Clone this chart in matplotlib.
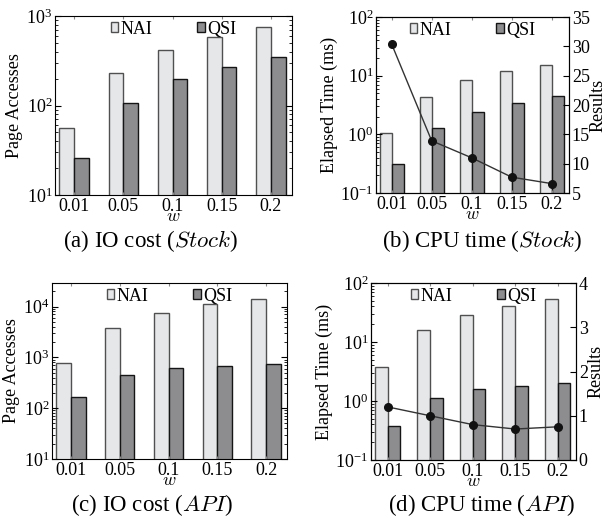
"""
plot.py - IO cost and CPU time of NAI vs QSI for varying w
"""

import numpy as np
import matplotlib
matplotlib.use("Agg")
import matplotlib.pyplot as plt
from matplotlib.patches import Patch

plt.rcParams["font.family"] = "Liberation Serif"
plt.rcParams["mathtext.fontset"] = "cm"

# Data
w_labels = ["0.01", "0.05", "0.1", "0.15", "0.2"]

io_stock_nai = [56, 229, 415, 576, 745]
io_stock_qsi = [26, 107, 196, 272, 352]

cpu_stock_nai = [1.07, 4.4, 8.4, 11.9, 15.5]
cpu_stock_qsi = [0.31, 1.27, 2.4, 3.44, 4.5]
res_stock = [30.4, 13.9, 11.0, 7.7, 6.6]

io_api_nai = [786, 3800, 7520, 10960, 14360]
io_api_qsi = [164, 444, 608, 677, 740]

cpu_api_nai = [3.7, 16.1, 29, 41.2, 54]
cpu_api_qsi = [0.37, 1.13, 1.58, 1.83, 2.0]
res_api = [1.2, 1.0, 0.8, 0.7, 0.75]

NAI_FC, NAI_EC = "#e6e7e9", "#505050"
QSI_FC, QSI_EC = "#8d8d90", "#151515"

W, H = 610, 523
fig = plt.figure(figsize=(W / 100, H / 100), dpi=100)


def px_axes(left, right, top, bottom):
    return fig.add_axes([left / W, 1 - bottom / H, (right - left) / W, (bottom - top) / H])


def bars(ax, nai, qsi, ylim, ylabel):
    x = np.arange(1, len(w_labels) + 1)
    bw = 0.3
    ax.bar(x - bw / 2, nai, bw, color=NAI_FC, edgecolor=NAI_EC, linewidth=1.0)
    ax.bar(x + bw / 2, qsi, bw, color=QSI_FC, edgecolor=QSI_EC, linewidth=1.0)
    ax.set_yscale("log")
    ax.set_ylim(*ylim)
    ax.set_xlim(0.61, 5.43)
    ax.set_xticks(x)
    ax.set_xticklabels(w_labels)
    ax.set_xlabel("$w$", fontsize=13, labelpad=-5)
    ax.set_ylabel(ylabel, fontsize=13, labelpad=2)
    ax.tick_params(axis="both", which="both", direction="in", labelsize=13, pad=2)
    ax.tick_params(axis="x", length=2, color="#888888", top=True)
    ax.tick_params(axis="y", which="major", length=4)
    ax.tick_params(axis="y", which="minor", length=2)
    handles = [Patch(facecolor=NAI_FC, edgecolor=NAI_EC, label="NAI"),
               Patch(facecolor=QSI_FC, edgecolor=QSI_EC, label="QSI")]
    ax.legend(handles=handles, ncol=2, frameon=False, loc="upper center",
              bbox_to_anchor=(0.5, 1.0), fontsize=13, handlelength=0.42,
              handleheight=0.42, handletextpad=0.12, columnspacing=2.5,
              borderaxespad=0.0, borderpad=0.25)
    return x


def results_line(ax, x, res, ylim, ticks):
    ax2 = ax.twinx()
    ax2.plot(x, res, color="#333333", linewidth=1.0, marker="o",
             markersize=5.5, markerfacecolor="#111111", markeredgecolor="#111111")
    ax2.set_ylim(*ylim)
    ax2.set_yticks(ticks)
    ax2.set_ylabel("Results", fontsize=13, labelpad=0)
    ax2.tick_params(axis="y", direction="in", labelsize=13, length=4, pad=2)
    return ax2


# (a) IO cost (Stock)
ax_a = px_axes(55, 292, 16, 195)
bars(ax_a, io_stock_nai, io_stock_qsi, (10, 1000), "Page Accesses")
ax_a.tick_params(axis="y", which="both", right=True)

# (b) CPU time (Stock)
ax_b = px_axes(376, 569, 17, 193)
xb = bars(ax_b, cpu_stock_nai, cpu_stock_qsi, (0.1, 100), "Elapsed Time (ms)")
results_line(ax_b, xb, res_stock, (5, 35), [5, 10, 15, 20, 25, 30, 35])

# (c) IO cost (API)
ax_c = px_axes(52, 287, 283, 459)
bars(ax_c, io_api_nai, io_api_qsi, (10, 29000), "Page Accesses")
ax_c.tick_params(axis="y", which="both", right=True)

# (d) CPU time (API)
ax_d = px_axes(371, 576, 283, 460)
xd = bars(ax_d, cpu_api_nai, cpu_api_qsi, (0.1, 100), "Elapsed Time (ms)")
results_line(ax_d, xd, res_api, (0, 4), [0, 1, 2, 3, 4])

# captions
captions = [(150, 241, r"(a) IO cost ($\mathit{Stock}$)"),
            (482, 241, r"(b) CPU time ($\mathit{Stock}$)"),
            (152, 505, r"(c) IO cost ($\mathit{API}$)"),
            (482, 505, r"(d) CPU time ($\mathit{API}$)")]
for cx, cy, txt in captions:
    fig.text(cx / W, 1 - cy / H, txt, ha="center", va="center", fontsize=16.5)

fig.savefig("out.png", dpi=100)
